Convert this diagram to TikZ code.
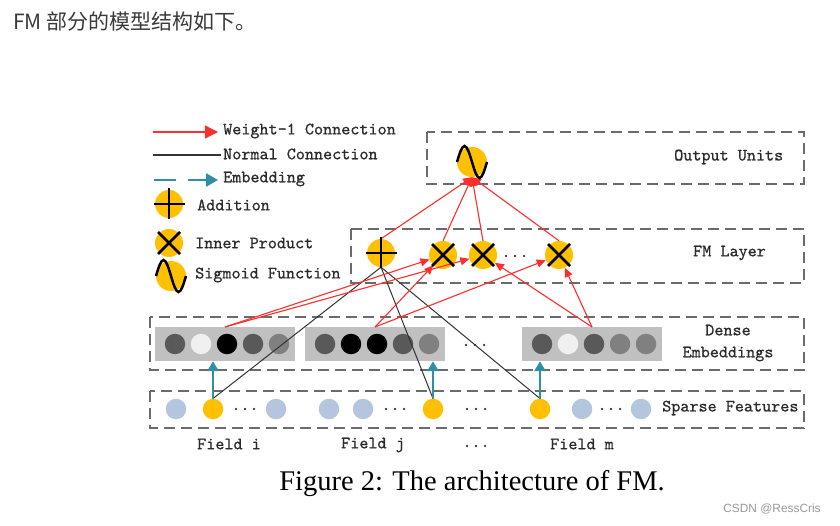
\documentclass[tikz,border=0pt]{standalone}
\usepackage{fontspec}
\newfontfamily\cjkfont{Noto Sans CJK SC}
\newfontfamily\capfont{Liberation Serif}
\newfontfamily\wmfont{Liberation Sans}
\newfontfamily\monof{lmmono10-regular.otf}[FakeBold=0.7]
\usetikzlibrary{arrows.meta}
\definecolor{gold}{HTML}{FFC000}
\definecolor{wred}{HTML}{FF2E2E}
\definecolor{teal2}{HTML}{2F8FA5}
\definecolor{boxgray}{HTML}{6B6B6B}
\definecolor{ngray}{HTML}{333333}
\definecolor{txt}{HTML}{2A2A2A}
\definecolor{rectgray}{HTML}{C0C0C0}
\definecolor{dkg}{HTML}{595959}
\definecolor{wht}{HTML}{F0F0F0}
\definecolor{blk}{HTML}{000000}
\definecolor{mdg}{HTML}{808080}
\definecolor{lblue}{HTML}{B3C6DE}
\definecolor{titlec}{HTML}{3A3A3A}
\definecolor{wmc}{HTML}{999999}
\newcommand\fmPlus[1]{\draw[sym] ([xshift=-15.5pt]#1.center) -- ([xshift=15.5pt]#1.center) ([yshift=15.5pt]#1.center) -- ([yshift=-15.5pt]#1.center);}
\newcommand\fmCross[1]{\draw[sym, shift={(#1.center)}] (-11,-11) -- (11,11) (-11,11) -- (11,-11);}
\newcommand\fmSig[1]{\draw[sym, shift={(#1.center)}] (-15,0) sin (-7.5,-16) cos (0,0) sin (7.5,16) cos (15,0);}
\begin{document}
\begin{tikzpicture}[x=1pt,y=-1pt,
  lbl/.style={font=\fontsize{17.3}{22}\selectfont\monof, text=txt, inner sep=0},
  dbox/.style={draw=boxgray, line width=2.5pt, dash pattern=on 11pt off 6pt},
  yel/.style={circle, fill=gold, minimum size=28pt, inner sep=0},
  sym/.style={line width=2.5pt, black},
  wconn/.style={draw=wred, line width=1.1pt, -{Triangle[length=9pt,width=8pt]}},
  nconn/.style={draw=ngray, line width=1pt},
  emb/.style={draw=teal2, line width=2.6pt, -{Triangle[length=10pt,width=11pt]}},
  dot/.style={circle, minimum size=20.5pt, inner sep=0},
  embrect/.style={fill=rectgray, minimum width=140pt, minimum height=34pt, inner sep=0}]
\useasboundingbox[fill=white] (0,0) rectangle (840,526);

% title
\node[anchor=west, inner sep=0, text=titlec, font=\cjkfont\fontsize{21}{24}\selectfont] (title) at (13,22) {FM 部分的模型结构如下。};

% legend
\coordinate (lw1) at (153,132); \coordinate (lw2) at (218,132);
\draw[draw=wred, line width=1.3pt, -{Triangle[length=13pt,width=13pt]}] (lw1) -- (lw2);
\node[lbl, anchor=west] (tw) at (223,131) {Weight-1 Connection};
\coordinate (ln1) at (153,155); \coordinate (ln2) at (221,155);
\draw[draw=ngray, line width=1.6pt] (ln1) -- (ln2);
\node[lbl, anchor=west] (tn) at (223,154) {Normal Connection};
\coordinate (le1) at (154,180); \coordinate (le2) at (218,180);
\draw[draw=teal2, line width=2.6pt, dash pattern=on 22pt off 12pt, -{Triangle[length=12pt,width=13pt]}] (le1) -- (le2);
\node[lbl, anchor=west] (te) at (223,179) {Embedding};
\node[yel] (lp) at (169,204) {}; \fmPlus{lp}
\node[lbl, anchor=west] (tp) at (197,205) {Addition};
\node[yel] (lx) at (169,243) {}; \fmCross{lx}
\node[lbl, anchor=west] (tx) at (195,243) {Inner Product};
\node[yel, minimum size=30pt] (ls) at (171,276) {}; \fmSig{ls}
\node[lbl, anchor=west] (ts) at (195,275) {Sigmoid Function};

% dashed boxes
\draw[dbox] (427,132) rectangle (804,184);
\draw[dbox] (351,229) rectangle (804,283);
\draw[dbox] (150,317) rectangle (804,370);
\draw[dbox] (150,391) rectangle (804,428);

% box labels
\node[lbl, anchor=west] (tou) at (674,157) {Output Units};
\node[lbl, anchor=west] (tfm) at (693,253) {FM Layer};
\node[lbl, align=center] (tde) at (728,343) {Dense\\Embeddings};
\node[lbl, anchor=west] (tsp) at (662,408) {Sparse Features};

% output
\node[yel, minimum size=30pt] (out) at (472,162) {};
% FM layer
\node[yel] (fp) at (381,253) {};
\node[yel] (c1) at (443,255) {};
\node[yel] (c2) at (483,255) {};
\node[yel] (c3) at (559,255) {};
\node[lbl] (fdots) at (515,256) {...};

% dense embeddings
\node[embrect] (r1) at (225,344) {};
\node[embrect] (r2) at (375,344) {};
\node[embrect] (r3) at (592,344) {};
\foreach \x/\c [count=\k] in {175/dkg,201/wht,227/blk,253/dkg,279/mdg}
  \node[dot, fill=\c] (a\k) at (\x,344) {};
\foreach \x/\c [count=\k] in {325/dkg,351/blk,377/blk,403/dkg,429/mdg}
  \node[dot, fill=\c] (b\k) at (\x,344) {};
\foreach \x/\c [count=\k] in {542/dkg,568/wht,594/dkg,620/mdg,646/mdg}
  \node[dot, fill=\c] (m\k) at (\x,344) {};
\node[lbl] (ddots) at (475,345) {...};

% sparse features
\foreach \x [count=\k] in {176,276,329,363,582,641}
  \node[dot, fill=lblue] (s\k) at (\x,409) {};
\node[dot, fill=gold] (yi) at (213,409) {};
\node[dot, fill=gold] (yj) at (433,409) {};
\node[dot, fill=gold] (ym) at (540,409) {};
\node[lbl] (sd1) at (245,409) {...};
\node[lbl] (sd2) at (395,409) {...};
\node[lbl] (sd3) at (476,409) {...};
\node[lbl] (sd4) at (611,409) {...};

% field labels
\node[lbl] (fi) at (229,444) {Field i};
\node[lbl] (fj) at (373,445) {Field j};
\node[lbl] (fd) at (476,446) {...};
\node[lbl] (fmm) at (582,444) {Field m};

% normal connections
\draw[nconn] (fp.south) -- (yi.north);
\draw[nconn] (fp.south) -- (yj.north);
\draw[nconn] (fp.south) -- (ym.north);

% embedding arrows
\draw[emb] (yi.north) -- (yi.north |- r1.south);
\draw[emb] (yj.north) -- (yj.north |- r2.south);
\draw[emb] (ym.north) -- (ym.north |- r3.south);

% weight-1 connections dense -> FM
\coordinate (e1) at (225,327);
\coordinate (e2) at (375,327);
\coordinate (e3) at (592,327);
\draw[wconn] (e1) -- (c1);
\draw[wconn] (e1) -- (c2);
\draw[wconn] (e2) -- (c1);
\draw[wconn] (e2) -- (c3);
\draw[wconn] (e3) -- (c2);
\draw[wconn] (e3) -- (c3);

% weight-1 connections FM -> output
\draw[wconn] (fp.north) -- (out.south);
\draw[wconn] (c1.north) -- (out.south);
\draw[wconn] (c2.north) -- (out.south);
\draw[wconn] (c3.north) -- (out.south);

% symbols
\fmSig{out}
\fmPlus{fp}
\fmCross{c1}
\fmCross{c2}
\fmCross{c3}

% caption and watermark
\node[inner sep=0, font=\capfont\fontsize{28.5}{32}\selectfont] (cap) at (472,484) {Figure 2: The architecture of FM.};
\node[inner sep=0, text=wmc, font=\wmfont\fontsize{11.9}{14}\selectfont] (wm) at (772,509) {CSDN @RessCris};
\end{tikzpicture}
\end{document}
